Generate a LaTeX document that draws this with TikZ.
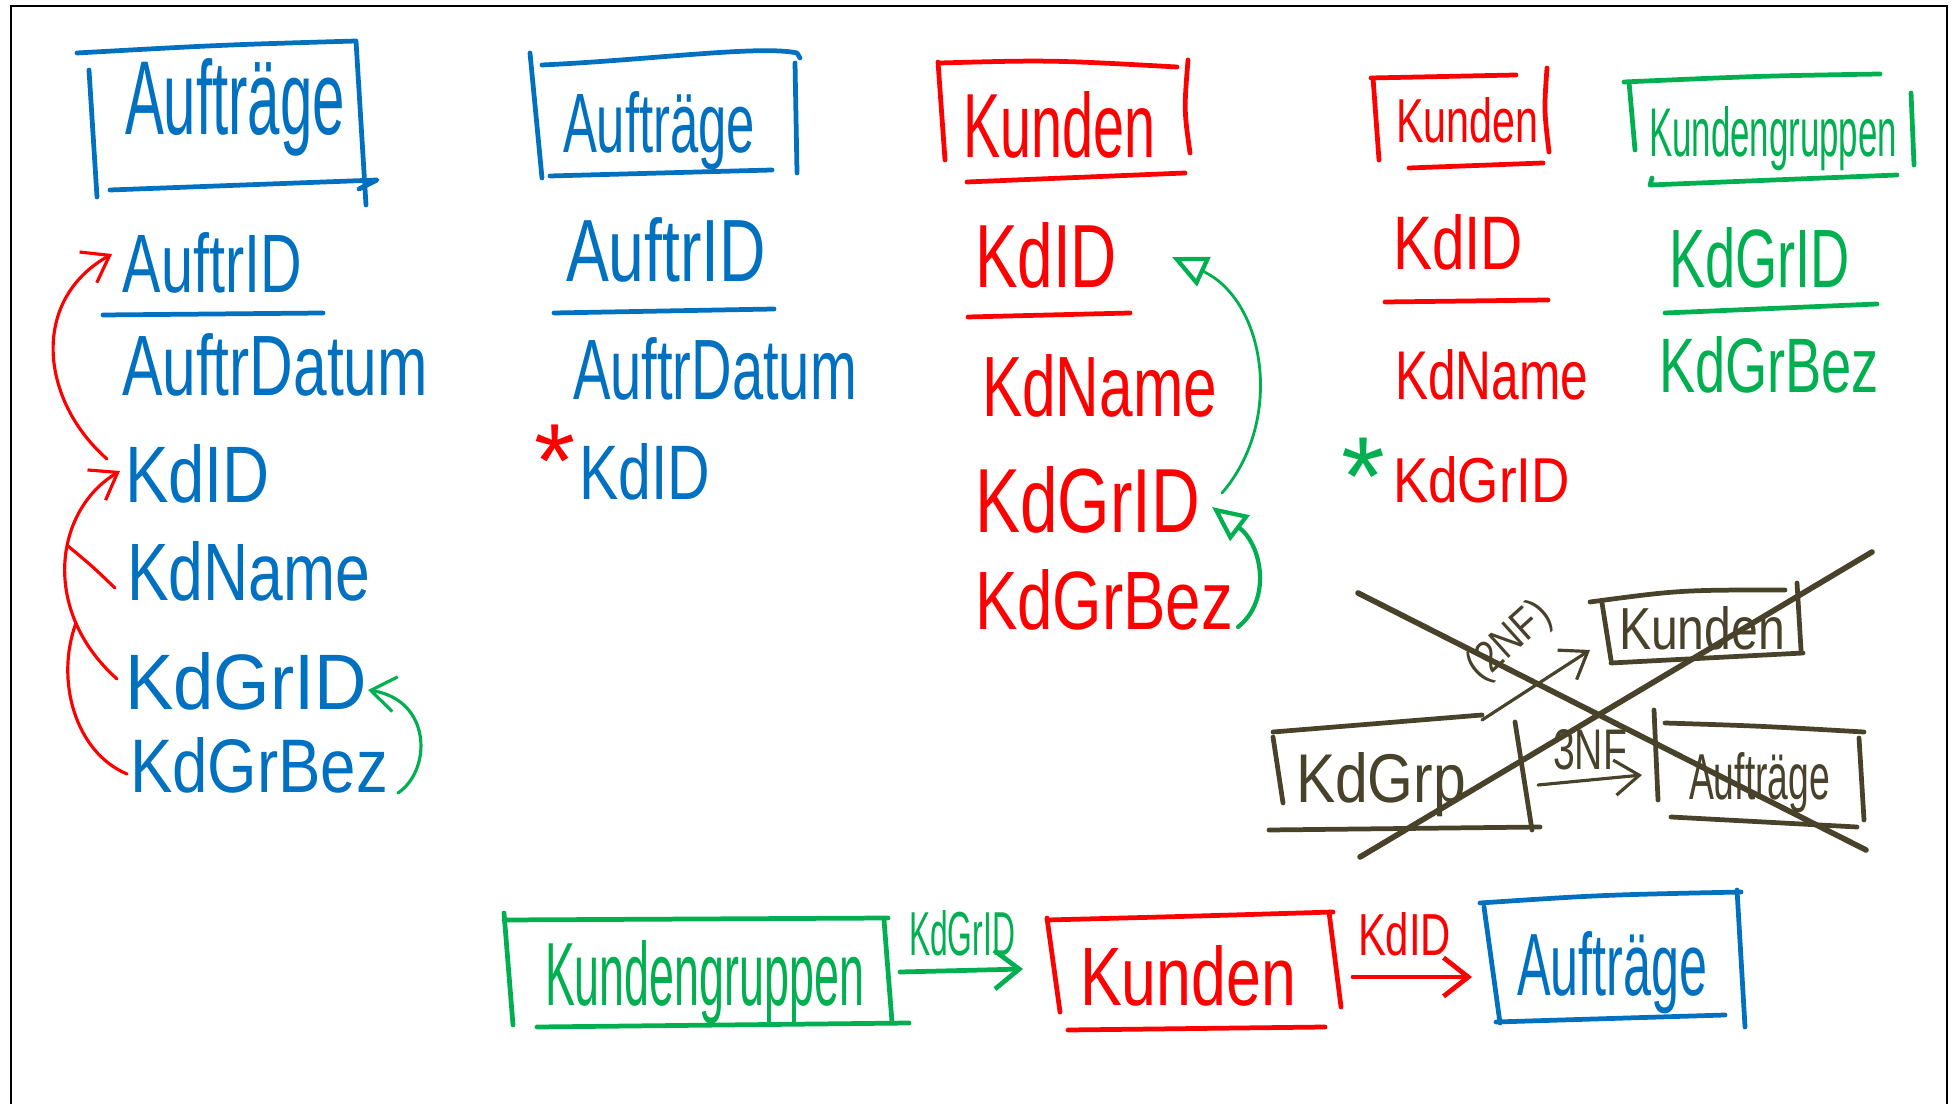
\documentclass[tikz,border=0pt]{standalone}
\usepackage{fontspec}
\setmainfont{Liberation Sans}
\usetikzlibrary{arrows.meta}

\definecolor{inkblue}{RGB}{0,112,192}
\definecolor{inkred}{RGB}{255,0,0}
\definecolor{inkgreen}{RGB}{0,176,80}
\definecolor{inkolive}{RGB}{73,66,42}

% one drawing unit = one pixel of the whiteboard
\newlength\pxu
\setlength\pxu{0.01cm}
% handwritten word: width and height above the baseline, in pixels
\newcommand\hw[3]{\resizebox{#1\pxu}{#2\pxu}{#3}}

\tikzset{
  word/.style={inner sep=0pt, outer sep=0pt, anchor=base west},
  pen/.style={line width=1.35pt, line cap=round, line join=round},
  thinpen/.style={line width=0.9pt, line cap=round, line join=round},
  barb/.style={thinpen, -{Straight Barb[length=7pt,width=10pt]}},
  boldbarb/.style={pen, -{Straight Barb[length=7pt,width=11pt]}},
  opentri/.style={line width=0.8pt, line cap=round,
    -{Triangle[open,length=10pt,width=9pt,line width=1.2pt]}},
  crossout/.style={line width=1.6pt, line cap=round, inkolive},
}

\begin{document}
\begin{tikzpicture}[x=0.01cm, y=-0.01cm]
\useasboundingbox (0,0) rectangle (1952,1104);
\fill[white] (0,0) rectangle (1952,1104);
% page frame
\draw[line width=0.8pt] (11,1104) -- (11,6) -- (1947,6) -- (1947,1104);

% ---------- table Aufträge (unnormalised) ----------
\begin{scope}[inkblue]
  \draw[pen] (77,53) .. controls (220,45) .. (356,41) -- (366,205);
  \draw[pen] (89,70) -- (97,197);
  \draw[pen] (110,190) -- (377,180) -- (359,189);
  \draw[pen] (103,315) -- (323,313);
\end{scope}
\node[word, text=inkblue] (c1h) at (125,135) {\hw{220}{76}{Aufträge}};
\node[word, text=inkblue] (c1a) at (123,293) {\hw{179}{60}{AuftrID}};
\node[word, text=inkblue] (c1b) at (122,396) {\hw{306}{62}{AuftrDatum}};
\node[word, text=inkblue] (c1c) at (125,503) {\hw{145}{58}{KdID}};
\node[word, text=inkblue] (c1d) at (127,601) {\hw{243}{59}{KdName}};
\node[word, text=inkblue] (c1e) at (125,710) {\hw{242}{57}{KdGrID}};
\node[word, text=inkblue] (c1f) at (130,793) {\hw{258}{55}{KdGrBez}};

% functional dependencies
\coordinate (m1) at (68,546);
\coordinate (m2) at (76,623);
\draw[barb, inkred] ([shift={(-18,-44)}]c1c.base west)
  .. controls (40,400) and (30,300) .. ([shift={(-11,-39)}]c1a.base west);
\draw[barb, inkred] ([shift={(-8,-31)}]c1e.base west)
  .. controls (40,610) and (55,510) .. ([shift={(-5,-32)}]c1c.base west);
\draw[thinpen, inkred] ([shift={(-12,-13)}]c1d.base west) .. controls (92,566) .. (m1);
\draw[thinpen, inkred] ([shift={(-3,-19)}]c1f.base west)
  .. controls (75,752) and (55,680) .. (m2);
\draw[barb, inkgreen] ([shift={(10,0)}]c1f.base east)
  .. controls (432,770) and (432,700) .. ([shift={(1,-20)}]c1e.base east);

% ---------- table Aufträge (2NF) ----------
\begin{scope}[inkblue]
  \draw[pen] (542,65) .. controls (650,60) and (760,45) .. (797,53) -- (800,58);
  \draw[pen] (530,53) -- (542,178);
  \draw[pen] (795,63) -- (797,173);
  \draw[pen] (550,176) -- (772,170);
  \draw[pen] (554,313) -- (774,309);
\end{scope}
\node[word, text=inkblue] (c2h) at (563,153) {\hw{192}{61}{Aufträge}};
\node[word, text=inkblue] (c2a) at (566,282) {\hw{200}{64}{AuftrID}};
\node[word, text=inkblue] (c2b) at (573,400) {\hw{284}{62}{AuftrDatum}};
\node[word, text=inkred] (c2s) at (534,498) {\fontsize{30pt}{30pt}\selectfont *};
\node[word, text=inkblue] (c2c) at (579,500) {\hw{131}{56}{KdID}};

% ---------- table Kunden (2NF) ----------
\begin{scope}[inkred]
  \draw[pen] (940,63) .. controls (1050,60) .. (1177,67);
  \draw[pen] (938,62) -- (945,160);
  \draw[pen] (1188,60) .. controls (1184,110) .. (1190,153);
  \draw[pen] (967,182) -- (1185,173);
  \draw[pen] (968,317) -- (1130,313);
\end{scope}
\node[word, text=inkred] (c3h) at (963,158) {\hw{192}{66}{Kunden}};
\node[word, text=inkred] (c3a) at (975,288) {\hw{142}{65}{KdID}};
\node[word, text=inkred] (c3b) at (982,417) {\hw{235}{62}{KdName}};
\node[word, text=inkred] (c3c) at (975,533) {\hw{225}{66}{KdGrID}};
\node[word, text=inkred] (c3d) at (975,630) {\hw{258}{60}{KdGrBez}};
\draw[opentri, inkgreen] ([shift={(22,-40)}]c3c.base east)
  .. controls (1285,420) and (1265,300) .. ([shift={(55,-31)}]c3a.base east);
\draw[opentri, inkgreen, line width=1.2pt] ([shift={(5,-3)}]c3d.base east)
  .. controls (1272,600) and (1262,545) .. ([shift={(12,-26)}]c3c.base east);

% ---------- table Kunden (3NF) ----------
\begin{scope}[inkred]
  \draw[pen] (1371,78) -- (1516,75);
  \draw[pen] (1373,78) -- (1379,160);
  \draw[pen] (1547,68) .. controls (1544,110) .. (1549,152);
  \draw[pen] (1409,168) -- (1543,163);
  \draw[pen] (1385,302) -- (1548,300);
\end{scope}
\node[word, text=inkred] (c4h) at (1396,143) {\hw{142}{45}{Kunden}};
\node[word, text=inkred] (c4a) at (1393,270) {\hw{130}{55}{KdID}};
\node[word, text=inkred] (c4b) at (1395,400) {\hw{193}{50}{KdName}};
\node[word, text=inkgreen] (c4s) at (1341,516) {\fontsize{32pt}{32pt}\selectfont *};
\node[word, text=inkred] (c4c) at (1393,503) {\hw{177}{46}{KdGrID}};

% ---------- table Kundengruppen (3NF) ----------
\begin{scope}[inkgreen]
  \draw[pen] (1624,82) .. controls (1760,76) .. (1880,74);
  \draw[pen] (1629,82) -- (1635,150);
  \draw[pen] (1911,93) -- (1914,165);
  \draw[pen] (1652,178) -- (1650,185) -- (1897,175);
  \draw[pen] (1665,313) -- (1877,304);
\end{scope}
\node[word, text=inkgreen] (c5h) at (1649,157) {\hw{248}{50}{Kundengruppen}};
\node[word, text=inkgreen] (c5a) at (1669,288) {\hw{181}{60}{KdGrID}};
\node[word, text=inkgreen] (c5b) at (1659,393) {\hw{220}{56}{KdGrBez}};

% ---------- discarded sketch, crossed out ----------
\begin{scope}[inkolive]
  \draw[pen] (1590,602) .. controls (1680,590) .. (1785,590);
  \draw[pen] (1602,603) -- (1611,660);
  \draw[pen] (1797,583) -- (1801,650);
  \draw[pen] (1611,663) -- (1803,653);
  \draw[pen] (1273,732) -- (1482,715);
  \draw[pen] (1273,737) -- (1283,803);
  \draw[pen] (1515,722) -- (1532,830);
  \draw[pen] (1269,830) -- (1540,827);
  \draw[pen] (1654,710) -- (1658,800);
  \draw[pen] (1665,723) .. controls (1760,726) .. (1864,732);
  \draw[pen] (1859,738) -- (1864,820);
  \draw[pen] (1671,817) -- (1857,827);
\end{scope}
\node[word, text=inkolive] (x1) at (1619,650) {\hw{166}{43}{Kunden}};
\node[word, text=inkolive] (x2) at (1296,803) {\hw{170}{50}{KdGrp}};
\node[word, text=inkolive] (x3) at (1689,800) {\hw{141}{47}{Aufträge}};
\node[inner sep=0pt, text=inkolive, rotate=42] (x4) at (1510,642) {\hw{96}{32}{(2NF)}};
\node[word, text=inkolive] (x5) at (1553,770) {\hw{74}{40}{3NF}};
\draw[barb, inkolive] ([shift={(16,-83)}]x2.base east) -- ([shift={(-29,0)}]x1.base west);
\draw[barb, inkolive] ([shift={(72,-18)}]x2.base east) -- ([shift={(-47,-25)}]x3.base west);
\draw[crossout] (1358,593) -- (1866,850);
\draw[crossout] (1360,857) -- (1872,552);

% ---------- resulting relations ----------
\begin{scope}[inkgreen]
  \draw[pen] (504,920) -- (888,918);
  \draw[pen] (504,913) -- (513,1025);
  \draw[pen] (884,920) -- (892,1022);
  \draw[pen] (537,1027) -- (909,1023);
\end{scope}
\begin{scope}[inkred]
  \draw[pen] (1047,920) .. controls (1200,916) .. (1333,912);
  \draw[pen] (1047,918) -- (1060,1012);
  \draw[pen] (1329,912) -- (1341,1007);
  \draw[pen] (1068,1030) -- (1325,1027);
\end{scope}
\begin{scope}[inkblue]
  \draw[pen] (1480,903) .. controls (1600,895) .. (1741,892);
  \draw[pen] (1484,907) -- (1500,1023);
  \draw[pen] (1737,890) -- (1745,1027);
  \draw[pen] (1496,1022) -- (1725,1015);
\end{scope}
\node[word, text=inkgreen] (b1) at (545,1005) {\hw{319}{65}{Kundengruppen}};
\node[word, text=inkgreen] (b2) at (909,955) {\hw{106}{45}{KdGrID}};
\node[word, text=inkred] (b3) at (1080,1005) {\hw{216}{60}{Kunden}};
\node[word, text=inkred] (b4) at (1358,955) {\hw{93}{43}{KdID}};
\node[word, text=inkblue] (b5) at (1517,995) {\hw{190}{64}{Aufträge}};
\draw[boldbarb, inkgreen] ([shift={(36,-33)}]b1.base east) -- ([shift={(-57,-36)}]b3.base west);
\draw[boldbarb, inkred] ([shift={(57,-28)}]b3.base east) -- ([shift={(-45,-18)}]b5.base west);
\end{tikzpicture}
\end{document}
